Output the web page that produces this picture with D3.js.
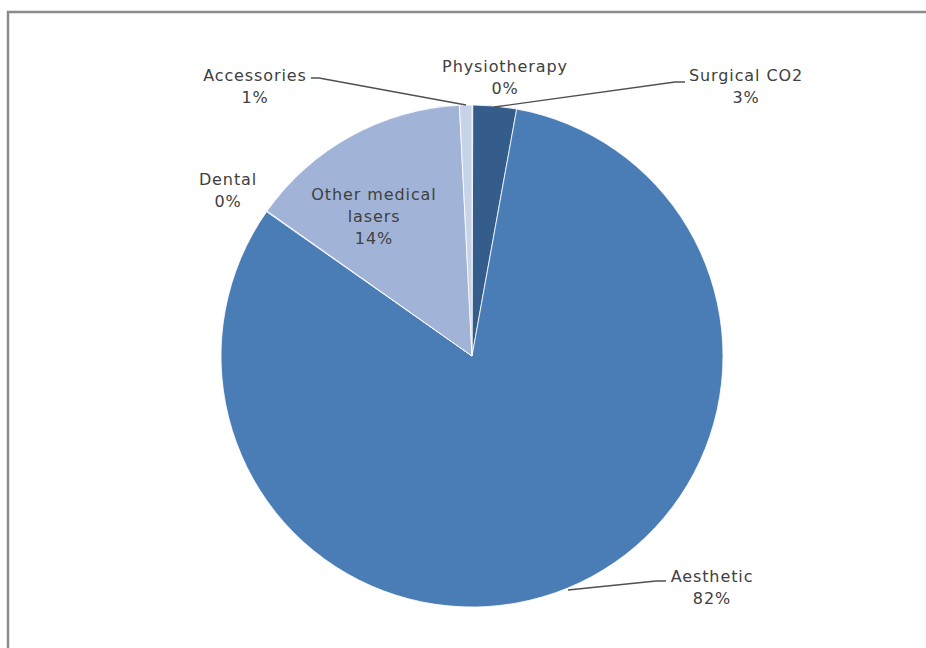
<!DOCTYPE html>
<html>
<head>
<meta charset="utf-8">
<script src="https://cdn.jsdelivr.net/npm/d3@7"></script>
<style>
  html, body { margin: 0; padding: 0; background: #fff; }
  svg { display: block; }
  text { font-family: "DejaVu Sans", sans-serif; fill: #404040; }
</style>
</head>
<body>
<svg id="chart" width="926" height="648"></svg>
<script>
// Revenue split by product line (share of total, %)
const categories = ["Physiotherapy", "Surgical CO2", "Aesthetic", "Dental", "Other medical lasers", "Accessories"];
const shares = [0.05, 2.8, 81.9, 0.05, 14.4, 0.8];
const sliceColors = ["#4a7ebb", "#345d8c", "#4a7cb6", "#4a7ebb", "#a1b4d7", "#c6d3e8"];

// Label placement: centre x, first baseline y, wrapped lines, optional leader path
const labelLayout = [
  { x: 505, y: 72, lines: ["Physiotherapy"], leader: null },
  { x: 746, y: 81, lines: ["Surgical CO2"], leader: [[685, 82], [675, 82], [494, 107]] },
  { x: 712, y: 582, lines: ["Aesthetic"], leader: [[666, 581], [656, 581], [568, 590]] },
  { x: 228, y: 185, lines: ["Dental"], leader: null },
  { x: 374, y: 200, lines: ["Other medical", "lasers"], leader: null },
  { x: 255, y: 81, lines: ["Accessories"], leader: [[311, 78], [319, 78], [466, 105]] }
];

const svg = d3.select("#chart");
const cx = 472, cy = 356, radius = 251;

// Outer chart frame
svg.append("rect")
  .attr("x", 8).attr("y", 12)
  .attr("width", 940).attr("height", 660)
  .attr("fill", "none").attr("stroke", "#8c8c8c").attr("stroke-width", 2.5);

const data = categories.map((c, i) => ({ name: c, value: shares[i], color: sliceColors[i], label: labelLayout[i] }));

const pie = d3.pie().sort(null).value(d => d.value);
const arc = d3.arc().innerRadius(0).outerRadius(radius);
const arcs = pie(data);

const g = svg.append("g").attr("transform", `translate(${cx},${cy})`);
g.selectAll("path.slice")
  .data(arcs)
  .join("path")
  .attr("class", "slice")
  .attr("d", arc)
  .attr("fill", d => d.data.color)
  .attr("stroke", "#ffffff")
  .attr("stroke-width", 0.8);

const pct = v => `${Math.round(v)}%`;

// Leader lines
svg.selectAll("path.leader")
  .data(data.filter(d => d.label.leader))
  .join("path")
  .attr("class", "leader")
  .attr("d", d => d3.line()(d.label.leader))
  .attr("fill", "none")
  .attr("stroke", "#505050")
  .attr("stroke-width", 1.3);

// Category + percentage labels
const lineH = 22;
data.forEach(d => {
  const t = svg.append("text")
    .attr("text-anchor", "middle")
    .attr("font-size", 16)
    .attr("letter-spacing", 0.9);
  const lines = d.label.lines.concat([pct(d.value)]);
  lines.forEach((ln, j) => {
    t.append("tspan")
      .attr("x", d.label.x)
      .attr("y", d.label.y + j * lineH)
      .text(ln);
  });
});
</script>
</body>
</html>
